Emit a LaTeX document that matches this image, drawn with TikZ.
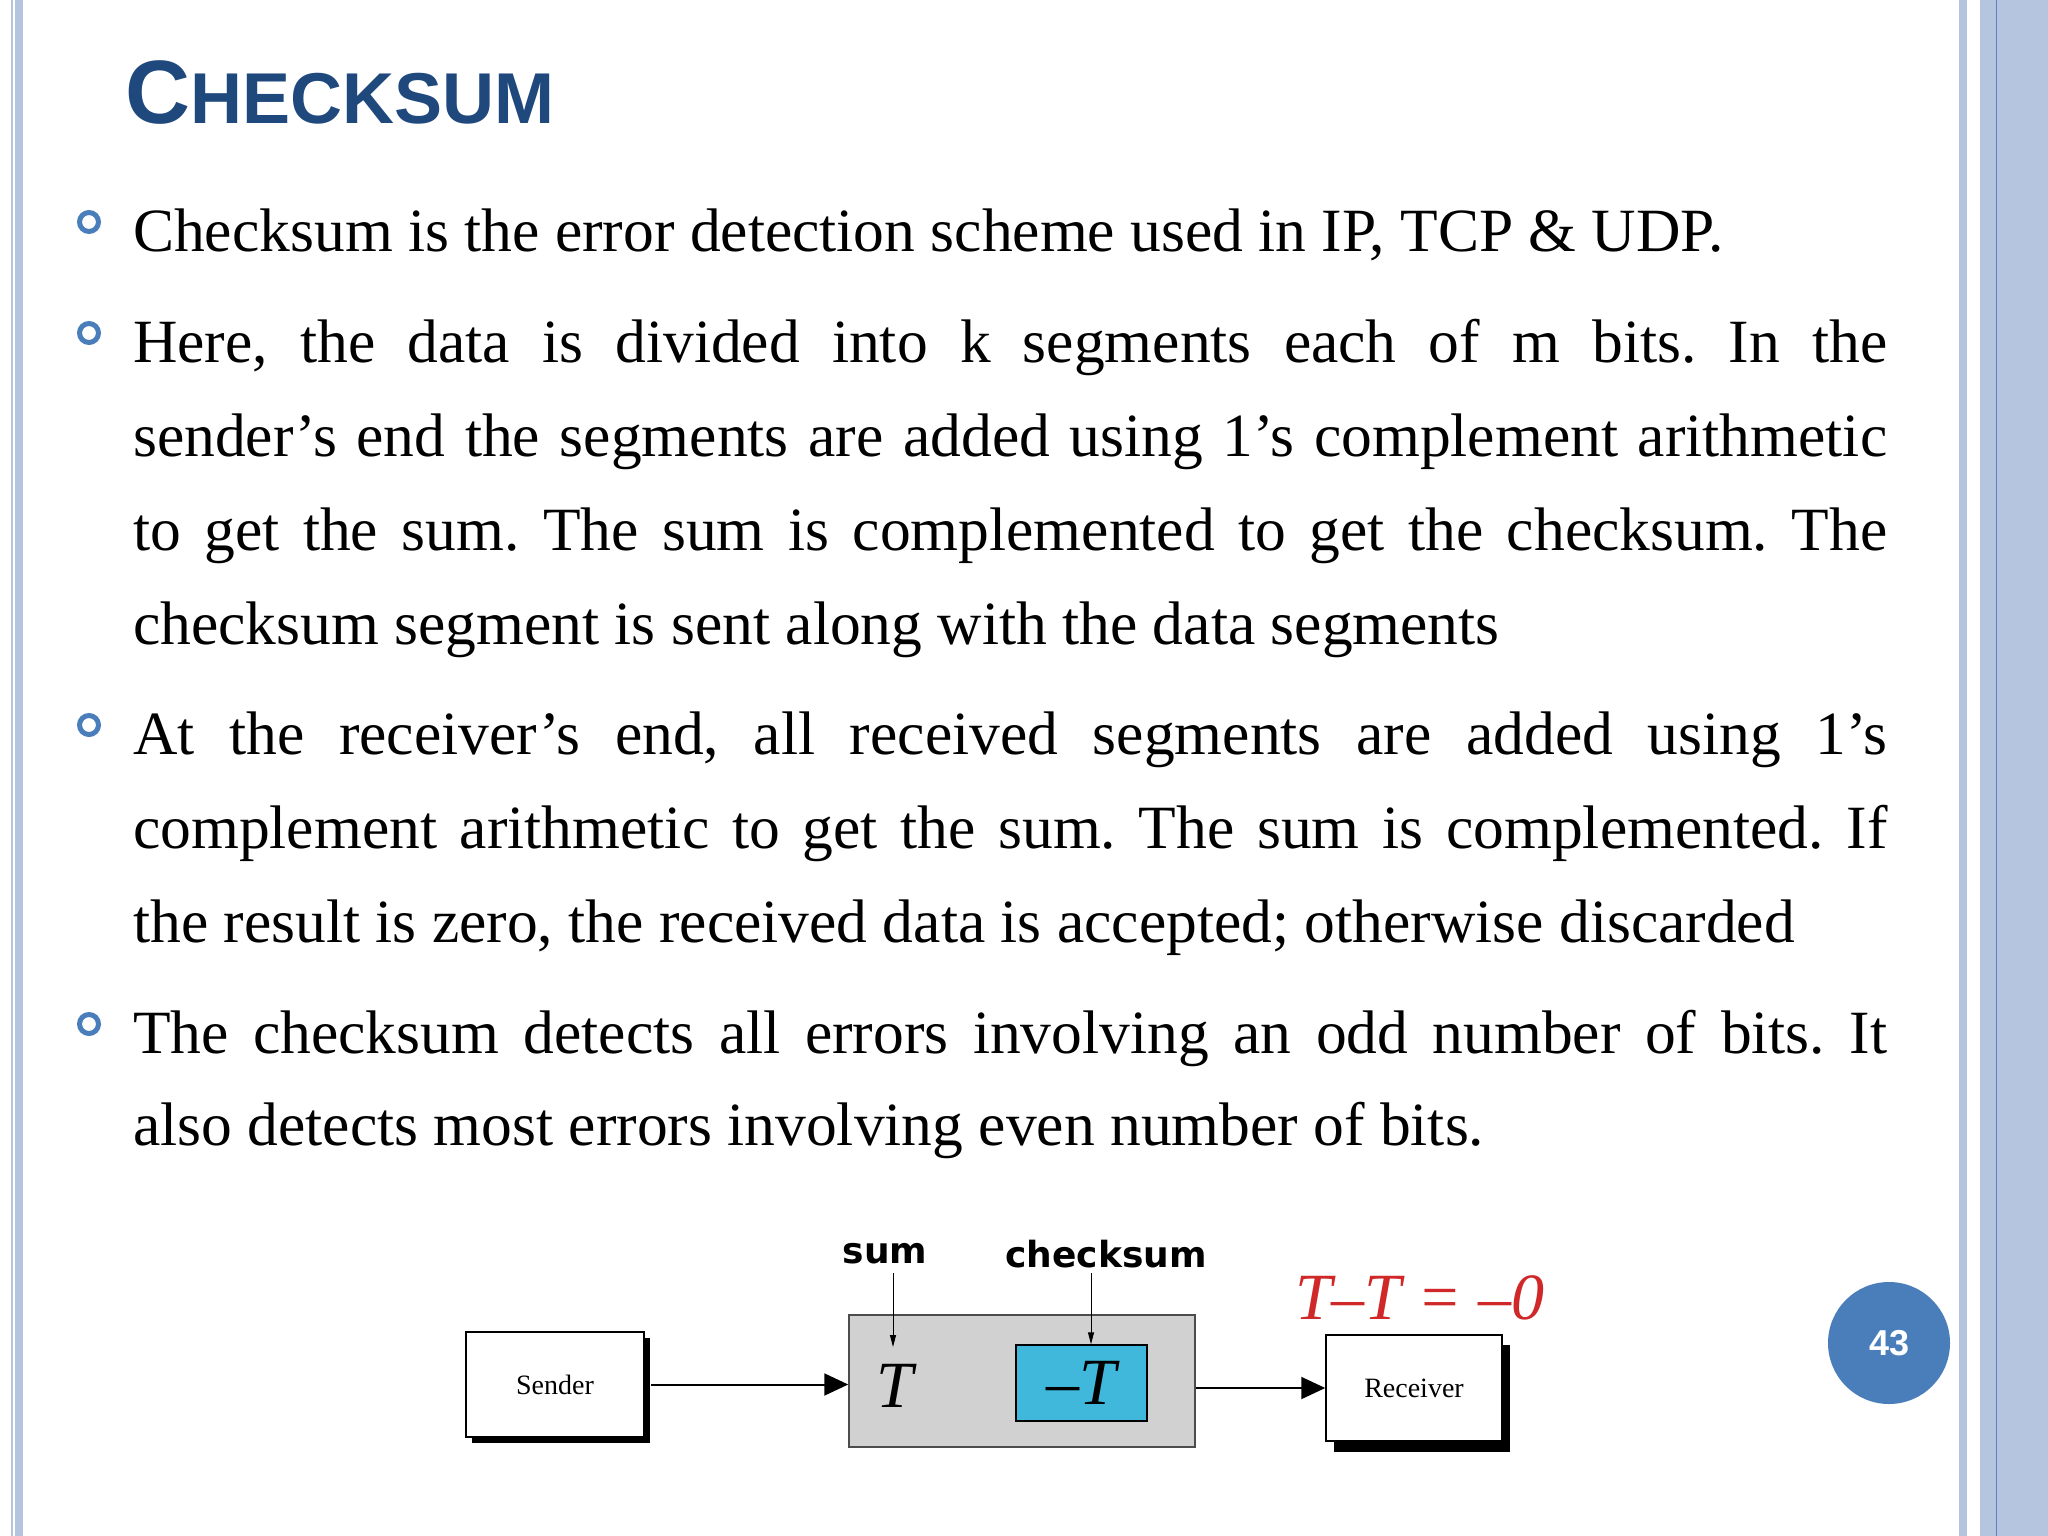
\documentclass[tikz,border=0pt]{standalone}
\usepackage{fontspec}
\setmainfont{Liberation Serif}
\newfontfamily\ttl{Liberation Sans}
\newfontfamily\dvs{DejaVu Sans}
\definecolor{stripe}{HTML}{B6C5DF}
\definecolor{stripeline}{HTML}{5A82C0}
\definecolor{ttlblue}{HTML}{1F497D}
\definecolor{bul}{HTML}{4A7EBB}
\definecolor{cyanbox}{HTML}{3FB8DC}
\definecolor{redeq}{HTML}{D02828}
\usetikzlibrary{arrows.meta}
\frenchspacing
\tikzset{
  line/.style={anchor=base west,font=\fontsize{61.5}{94}\selectfont,inner sep=0pt},
  bull/.style={circle,draw=bul,line width=5pt,minimum size=19pt,inner sep=0pt},
  boxsh/.style={draw=black,line width=1.5pt,fill=white},
  arr/.style={line width=2pt,-{Triangle[length=24pt,width=22pt]}},
  thin/.style={line width=1pt,-{Triangle[length=12pt,width=6pt]}},
}
\begin{document}
\begin{tikzpicture}[x=1pt,y=-1pt]
\useasboundingbox (0,0) rectangle (2048,1536);
\fill[white] (0,0) rectangle (2048,1536);
% side stripes
\fill[stripe] (11,0) rectangle (13,1536);
\fill[stripe] (15,0) rectangle (23,1536);
\fill[stripe] (1959,0) rectangle (1967,1536);
\fill[stripe] (1980,0) rectangle (2048,1536);
\draw[stripeline,line width=1pt] (1996,0) -- (1996,1536);
% title
\node[anchor=base west,inner sep=0pt,text=ttlblue] (title) at (125,124)
  {\ttl\bfseries\fontsize{90}{90}\selectfont C\fontsize{72}{90}\selectfont HECKSUM};
% bullets
\foreach \n/\y in {b1/222,b2/333,b3/725,b4/1024} \node[bull] (\n) at (89,\y) {};
\def\W{1754pt}
\node[line] (l1) at (133,251) {Checksum is the error detection scheme used in IP, TCP \& UDP.};
\node[line] (l2) at (133,362) {\makebox[\W][s]{Here, the data is divided into k segments each of m bits. In the}};
\node[line] (l3) at (133,456) {\makebox[\W][s]{sender’s end the segments are added using 1’s complement arithmetic}};
\node[line] (l4) at (133,550) {\makebox[\W][s]{to get the sum. The sum is complemented to get the checksum. The}};
\node[line] (l5) at (133,644) {checksum segment is sent along with the data segments};
\node[line] (l6) at (133,754) {\makebox[\W][s]{At the receiver’s end, all received segments are added using 1’s}};
\node[line] (l7) at (133,848) {\makebox[\W][s]{complement arithmetic to get the sum. The sum is complemented. If}};
\node[line] (l8) at (133,942) {the result is zero, the received data is accepted; otherwise discarded};
\node[line] (l9) at (133,1053) {\makebox[\W][s]{The checksum detects all errors involving an odd number of bits. It}};
\node[line] (l10) at (133,1145) {also detects most errors involving even number of bits.};
% diagram
\fill[black] (472,1338) rectangle (650,1443);
\node[boxsh,minimum width=178pt,minimum height=105pt,font=\fontsize{28}{30}\selectfont,inner sep=0pt] (sender) at (555,1384.5) {Sender};
\node[draw=black!70,fill=black!18,line width=1.5pt,minimum width=346pt,minimum height=132pt,inner sep=0pt] (gray) at (1022,1381) {};
\node[draw=black,fill=cyanbox,line width=1.5pt,minimum width=131pt,minimum height=76pt,inner sep=0pt,font=\fontsize{66}{66}\selectfont\itshape] (neg) at (1081.5,1383) {–T};
\node[font=\fontsize{66}{66}\selectfont\itshape,inner sep=0pt] (T) at (895,1386) {T};
\fill[black] (1334,1345) rectangle (1510,1452);
\node[boxsh,minimum width=176pt,minimum height=106pt,font=\fontsize{28}{30}\selectfont,inner sep=0pt] (recv) at (1414,1388) {Receiver};
\node[font=\dvs\bfseries\fontsize{36}{38}\selectfont,inner sep=0pt] (sum) at (885,1254) {sum};
\node[font=\dvs\bfseries\fontsize{36}{38}\selectfont,inner sep=0pt] (chk) at (1106,1254) {checksum};
\node[font=\fontsize{66}{66}\selectfont\itshape,text=redeq,inner sep=0pt] (eq) at (1420,1298) {T–T = –0};
\draw[arr] (sender.east) ++(6,0) coordinate (s1) -- (gray.west |- s1);
\draw[arr] (gray.east |- recv.west) -- (recv.west);
\draw[thin] (893,1273) -- (893,1347);
\draw[thin] (1091,1273) -- (neg.north -| 1091,0);
% page number
\node[circle,fill=bul,minimum size=122pt,inner sep=0pt,text=white,font=\ttl\bfseries\fontsize{36}{38}\selectfont] (pg) at (1889,1343) {43};
\end{tikzpicture}
\end{document}
